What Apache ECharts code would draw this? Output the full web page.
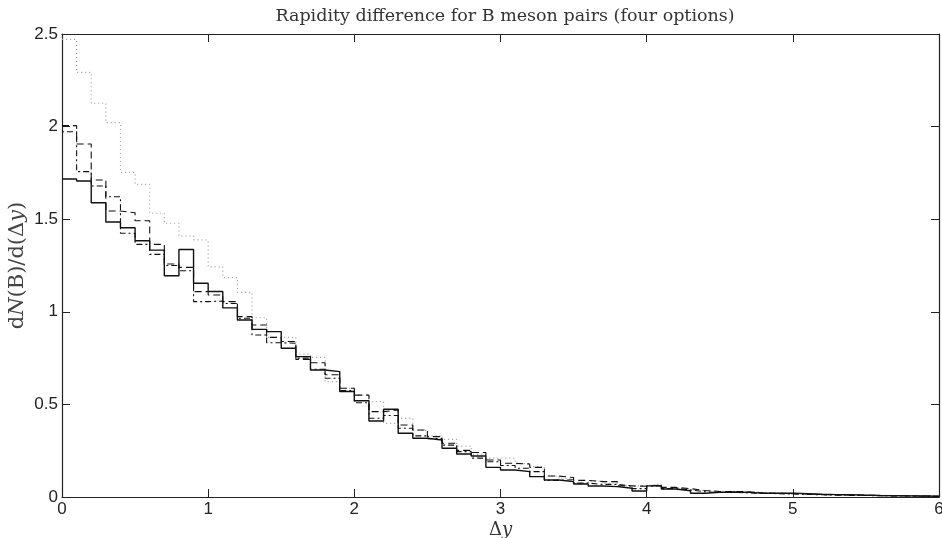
<!DOCTYPE html>
<html>
<head>
<meta charset="utf-8">
<script src="https://cdn.jsdelivr.net/npm/echarts@6/dist/echarts.min.js"></script>
<style>html,body{margin:0;padding:0;background:#fff}#c{width:942px;height:538px}</style>
</head>
<body>
<div id="c"></div>
<script>
// bin width 0.1, bins start at 0.0 ... 5.9
const binStarts = Array.from({length: 60}, (_, k) => +(k * 0.1).toFixed(1));

const solid = [1.717,1.706,1.589,1.485,1.454,1.384,1.333,1.195,1.336,1.154,
  1.110,1.021,0.956,0.905,0.893,0.803,0.758,0.686,0.677,0.570,
  0.520,0.410,0.474,0.344,0.317,0.308,0.263,0.232,0.221,0.160,
  0.146,0.137,0.110,0.092,0.083,0.070,0.059,0.056,0.047,0.032,
  0.060,0.043,0.034,0.020,0.025,0.027,0.025,0.020,0.020,0.020,
  0.018,0.015,0.013,0.012,0.010,0.008,0.007,0.006,0.005,0.004];

const dashed = [2.005,1.906,1.712,1.544,1.535,1.492,1.364,1.258,1.240,1.109,
  1.091,1.055,0.974,0.929,0.862,0.840,0.743,0.725,0.660,0.587,
  0.550,0.461,0.470,0.389,0.362,0.326,0.290,0.252,0.240,0.200,
  0.182,0.178,0.160,0.113,0.105,0.090,0.083,0.083,0.060,0.058,
  0.065,0.052,0.045,0.035,0.030,0.030,0.028,0.022,0.020,0.018,
  0.016,0.013,0.012,0.010,0.010,0.008,0.007,0.006,0.005,0.004];

const dashDot = [1.972,1.757,1.679,1.621,1.424,1.364,1.310,1.250,1.222,1.055,
  1.058,1.045,0.965,0.875,0.833,0.830,0.750,0.690,0.641,0.575,
  0.509,0.425,0.440,0.371,0.330,0.315,0.280,0.245,0.210,0.190,
  0.170,0.155,0.137,0.090,0.093,0.075,0.068,0.068,0.060,0.045,
  0.060,0.045,0.038,0.028,0.025,0.025,0.022,0.020,0.018,0.016,
  0.014,0.012,0.010,0.009,0.008,0.007,0.006,0.005,0.004,0.003];

const dotted = [2.471,2.293,2.126,2.021,1.753,1.688,1.532,1.478,1.409,1.388,
  1.243,1.185,1.105,0.968,0.862,0.862,0.772,0.754,0.623,0.587,
  0.550,0.515,0.398,0.425,0.360,0.330,0.311,0.275,0.230,0.210,
  0.209,0.180,0.164,0.113,0.101,0.075,0.086,0.075,0.060,0.062,
  0.070,0.050,0.040,0.035,0.030,0.030,0.030,0.025,0.022,0.020,
  0.018,0.015,0.013,0.012,0.010,0.009,0.008,0.007,0.006,0.005];

const xTicks = [0,1,2,3,4,5,6];
const yTicks = [0,0.5,1,1.5,2,2.5];

function steps(vals) {
  const pts = binStarts.map((x, i) => [x, vals[i]]);
  pts.push([6, vals[vals.length - 1]]);
  return pts;
}

const chart = echarts.init(document.getElementById('c'), null, {renderer: 'canvas'});
const labelFont = {fontFamily: 'Liberation Sans, Arial, sans-serif', fontSize: 17, color: '#222'};
const axLine = {show: true, onZero: false, lineStyle: {color: '#222', width: 1.2}};
const tick = {show: true, inside: true, length: 8, lineStyle: {color: '#222', width: 1}};

function mk(color, type, width) {
  return {type: 'line', step: 'end', symbol: 'none', animation: false,
    lineStyle: {color: color, type: type, width: width}};
}

chart.setOption({
  animation: false,
  backgroundColor: '#fff',
  title: {
    text: 'Rapidity difference for B meson pairs (four options)',
    left: 500, top: 2, textAlign: 'center',
    textStyle: {fontFamily: 'DejaVu Serif, serif', fontWeight: 'normal', fontSize: 17.5, color: '#333'}
  },
  grid: {left: 62, right: 3, top: 34, bottom: 41, containLabel: false, outerBoundsMode: 'none'},
  xAxis: [{
    type: 'value', min: 0, max: 6, interval: 1, position: 'bottom',
    axisLine: axLine, axisTick: tick, splitLine: {show: false},
    axisLabel: Object.assign({margin: 4, showMaxLabel: true}, labelFont),
    name: '{d|Δ}{i|y}', nameLocation: 'middle', nameGap: 24, nameMoveOverlap: false,
    nameTextStyle: {rich: {
      d: {fontFamily: 'DejaVu Serif, serif', fontSize: 18, color: '#333'},
      i: {fontFamily: 'DejaVu Serif, serif', fontStyle: 'italic', fontSize: 18, color: '#333'}
    }}
  }, {
    type: 'value', min: 0, max: 6, interval: 1, position: 'top',
    axisLine: axLine, axisTick: tick, axisLabel: {show: false}, splitLine: {show: false}
  }],
  yAxis: [{
    type: 'value', min: 0, max: 2.5, interval: 0.5, position: 'left',
    axisLine: axLine, axisTick: tick, splitLine: {show: false},
    axisLabel: Object.assign({margin: 4}, labelFont),
    name: '{r|d}{i|N}{r|(B)/d(Δ}{i|y}{r|)}', nameLocation: 'middle', nameGap: 34, nameRotate: 90,
    nameMoveOverlap: false,
    nameTextStyle: {rich: {
      r: {fontFamily: 'DejaVu Serif, serif', fontSize: 21, color: '#444'},
      i: {fontFamily: 'DejaVu Serif, serif', fontStyle: 'italic', fontSize: 21, color: '#444'}
    }}
  }, {
    type: 'value', min: 0, max: 2.5, interval: 0.5, position: 'right',
    axisLine: axLine, axisTick: tick, axisLabel: {show: false}, splitLine: {show: false}
  }],
  series: [
    Object.assign(mk('#aaaaaa', [1.2, 2.8], 1.2), {name: 'dotted', data: steps(dotted)}),
    Object.assign(mk('#111111', [2, 3, 6, 3], 1.1), {name: 'dashdot', data: steps(dashDot)}),
    Object.assign(mk('#111111', [7, 4], 1.1), {name: 'dashed', data: steps(dashed)}),
    Object.assign(mk('#111111', 'solid', 1.4), {name: 'solid', data: steps(solid)})
  ]
});
</script>
</body>
</html>
